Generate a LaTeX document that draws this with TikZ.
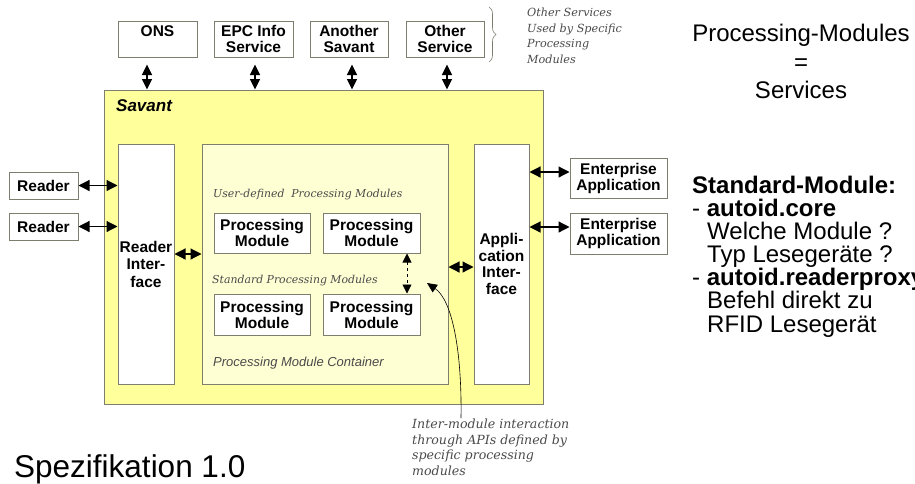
\documentclass[tikz,border=0pt]{standalone}
\usepackage{fontspec}
\setmainfont{Liberation Sans}
\newfontfamily\notefont{DejaVu Serif}
\usetikzlibrary{arrows.meta,decorations.pathreplacing}

\definecolor{savantfill}{HTML}{FFFF9C}
\definecolor{contfill}{HTML}{FFFFD4}
\definecolor{edge}{HTML}{7E7E6E}
\definecolor{notegray}{HTML}{4A4A4A}

\begin{document}
\begin{tikzpicture}[x=1pt,y=-1pt,
  box/.style={draw=edge, line width=1pt, fill=white, inner sep=0pt, align=center,
    font=\fontsize{15.5}{16}\selectfont\bfseries},
  biarrow/.style={{Triangle[length=11pt,width=11pt]}-{Triangle[length=11pt,width=11pt]}, line width=1.2pt},
  note/.style={font=\notefont\itshape\fontsize{11.2}{15.5}\selectfont, text=notegray,
    inner sep=0pt, align=left},
  body/.style={font=\fontsize{24}{24}\selectfont, inner sep=0pt, anchor=base west}
]
\useasboundingbox (0,0) rectangle (915,483);

% external services
\node[box, minimum width=79pt, minimum height=36pt] (ons) at (157.5,39) {ONS\\[0pt]~};
\node[box, minimum width=79pt, minimum height=36pt] (epc) at (253.5,39) {EPC Info\\Service};
\node[box, minimum width=78pt, minimum height=36pt] (another) at (349,39) {Another\\Savant};
\node[box, minimum width=78pt, minimum height=36pt] (other) at (445,39) {Other\\Service};
\draw[edge, line width=0.6pt, decorate, decoration={brace, amplitude=7pt}]
  (489,7) -- (489,62);
\node[note, anchor=north west] (othernote) at (527,8)
  {Other Services\\Used by Specific\\Processing\\Modules};

% Savant and its parts
\node[draw=edge, line width=1pt, fill=savantfill, minimum width=439pt, minimum height=314pt,
  inner sep=0pt] (savant) at (323.5,247) {};
\node[font=\fontsize{17}{17}\selectfont\bfseries\itshape, inner sep=0pt, anchor=base west]
  (savanttitle) at (116,111) {Savant};

\node[box, font=\fontsize{15.5}{17.5}\selectfont\bfseries, minimum width=56pt, minimum height=240pt]
  (readerif) at (146,264) {Reader\\Inter-\\face};
\node[box, fill=contfill, minimum width=246pt, minimum height=240pt] (container) at (325,264) {};
\node[box, font=\fontsize{15.5}{16.7}\selectfont\bfseries, minimum width=55pt, minimum height=240pt]
  (appif) at (501.5,264) {Appli-\\cation\\Inter-\\face};

\node[note, font=\notefont\itshape\fontsize{10.9}{12}\selectfont, anchor=base west]
  (userdef) at (213,197) {User-defined\ \ Processing Modules};
\node[note, font=\notefont\itshape\fontsize{10.9}{12}\selectfont, anchor=base west]
  (stddef) at (212,283) {Standard Processing Modules};
\node[font=\fontsize{13}{13}\selectfont\itshape, text=notegray, inner sep=0pt, anchor=base west]
  (conttitle) at (213,366) {Processing Module Container};

\node[box, minimum width=96pt, minimum height=40pt] (pm1) at (262,233) {Processing\\Module};
\node[box, minimum width=97pt, minimum height=40pt] (pm2) at (371.5,233) {Processing\\Module};
\node[box, minimum width=96pt, minimum height=41pt] (pm3) at (262,314.5) {Processing\\Module};
\node[box, minimum width=97pt, minimum height=41pt] (pm4) at (371.5,314.5) {Processing\\Module};

% readers and enterprise applications
\node[box, minimum width=69pt, minimum height=27pt] (reader1) at (43.5,185.5) {Reader};
\node[box, minimum width=69pt, minimum height=27pt] (reader2) at (43.5,226.5) {Reader};
\node[box, minimum width=97pt, minimum height=40pt] (ent1) at (618.5,178) {Enterprise\\Application};
\node[box, minimum width=97pt, minimum height=41pt] (ent2) at (618.5,233.5) {Enterprise\\Application};

% connectors
\foreach \n/\dx in {ons/-10.5, epc/1.5, another/3, other/2}
  \draw[biarrow, {Triangle[length=10.5pt,width=10pt]}-{Triangle[length=10.5pt,width=10pt]}]
    ([xshift=\dx pt, yshift=-7pt]\n.south) -- ([xshift=\dx pt]\n.south |- savant.north);
\draw[biarrow] (reader1.east) -- (reader1.east -| readerif.west);
\draw[biarrow] (reader2.east) -- (reader2.east -| readerif.west);
\draw[biarrow] ([yshift=-254pt]readerif.east |- 0,0) -- ([yshift=-254pt]container.west |- 0,0);
\draw[biarrow] ([yshift=-267pt]container.east |- 0,0) -- ([yshift=-267pt]appif.west |- 0,0);
\draw[biarrow] ([yshift=6pt]ent1.west -| appif.east) -- ([yshift=6pt]ent1.west);
\draw[biarrow] ([yshift=6.5pt]ent2.west -| appif.east) -- ([yshift=6.5pt]ent2.west);
\draw[{Triangle[length=9pt,width=9pt]}-{Triangle[length=9pt,width=9pt]}, line width=0.8pt, dashed]
  ([xshift=35.5pt]pm2.south) -- ([xshift=35.5pt]pm4.north);

% note on inter-module interaction
\coordinate (apitail) at (461,418);
\coordinate (apihead) at (427,283);
\draw[-{Triangle[length=10pt,width=9pt]}, line width=0.6pt]
  (apitail) .. controls (462,350) and (452,300) .. (apihead);
\node[note, font=\notefont\itshape\fontsize{12.6}{15.5}\selectfont, anchor=north west]
  (apinote) at (412,419)
  {Inter-module interaction\\through APIs defined by\\specific processing\\modules};

% text on the right and below
\node[font=\fontsize{24}{24}\selectfont, inner sep=0pt, anchor=base] (pmeq) at (801,41) {Processing-Modules};
\node[font=\fontsize{24}{24}\selectfont, inner sep=0pt, anchor=base] (eq) at (801,70) {=};
\node[font=\fontsize{24}{24}\selectfont, inner sep=0pt, anchor=base] (svc) at (801,98) {Services};
\node[body] (std) at (692,193) {\bfseries Standard-Module:};
\node[body] (core) at (692,216) {- \textbf{autoid.core}};
\node[body] (l1) at (707,239) {Welche Module ?};
\node[body] (l2) at (707,262) {Typ Lesegeräte ?};
\node[body] (proxy) at (692,285) {- \textbf{autoid.readerproxy}};
\node[body] (l3) at (707,308) {Befehl direkt zu};
\node[body] (l4) at (707,332) {RFID Lesegerät};
\node[font=\fontsize{31.5}{31.5}\selectfont, inner sep=0pt, anchor=base west] (spec) at (14,477)
  {Spezifikation 1.0};
\end{tikzpicture}
\end{document}
